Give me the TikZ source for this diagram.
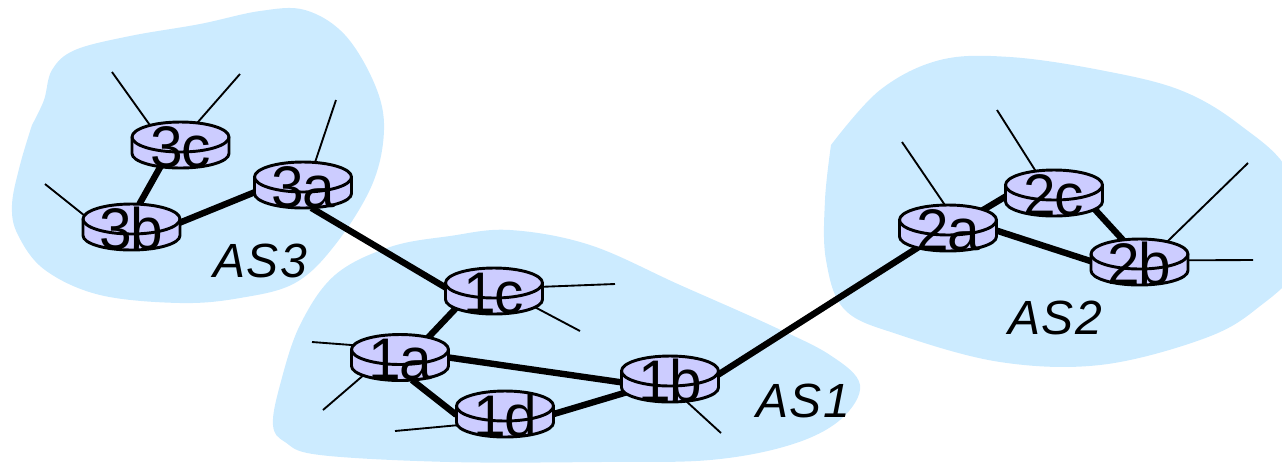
\documentclass[tikz,border=0pt]{standalone}
\usepackage{fontspec}
\setmainfont{Liberation Sans}
\newfontfamily\rtrfont[LetterSpace=-3]{Liberation Sans}
\newfontfamily\asfont[LetterSpace=3]{Liberation Sans}
\usetikzlibrary{shapes.geometric,backgrounds}
\definecolor{asblue}{HTML}{CCEBFF}
\definecolor{rtrfill}{HTML}{CCCCFF}
\tikzset{
  asblob/.style={fill=asblue,draw=none},
  rtrbody/.style={fill=rtrfill,draw=black,line width=2.2pt,line join=round},
  rtrnode/.style={ellipse,minimum width=72.75pt,minimum height=34.5pt,inner sep=0pt,
     font=\fontsize{44}{44}\rtrfont},
  aslabel/.style={font=\fontsize{36}{36}\asfont\itshape,inner sep=0pt},
  trunk/.style={line width=4.8pt,draw=black},
  stub/.style={line width=1.4pt,draw=black}
}
\newcommand{\rtr}[4]{%
  \begin{scope}[shift={(#2,#3)}]
    \path[rtrbody] (-48.5,-8) -- (-48.5,8.5) arc[start angle=180,end angle=0,x radius=48.5,y radius=14.5]
       -- (48.5,-8) arc[start angle=0,end angle=-180,x radius=48.5,y radius=15] -- cycle;
    \draw[line width=2.2pt] (-48.5,-8) arc[start angle=180,end angle=0,x radius=48.5,y radius=15];
  \end{scope}
  \node[rtrnode] (#1) at (#2,#3) {\makebox[0pt][c]{\raisebox{-16.5pt}[0pt][0pt]{#4}}};%
}
\begin{document}
\begin{tikzpicture}[x=0.75pt,y=-0.75pt]
\useasboundingbox (0,0) rectangle (1282,462);
\begin{pgfonlayer}{background}
\begin{scope}
\clip (0,0) rectangle (1282,462);
\fill[asblob] plot[smooth,tension=0.6] coordinates {(32,125) (44,100) (52,70) (75,50) (130,36) (200,24) (260,11) (305,10) (345,35) (375,85) (384,130) (372,185) (335,245) (295,283) (240,298) (180,303) (100,295) (45,270) (18,235) (12,205) (20,165) (32,125)};
\fill[asblob] plot[smooth cycle,tension=0.6] coordinates {(273,425) (280,385) (300,325) (335,275) (390,247) (450,236) (510,230) (590,245) (680,285) (770,325) (830,355) (860,385) (840,420) (790,445) (710,460) (600,462) (450,462) (320,455) (285,442)};
\fill[asblob] plot[smooth,tension=0.6] coordinates {(831,145) (880,90) (940,60) (1010,57) (1100,70) (1180,90) (1240,125) (1290,175) (1300,260) (1255,310) (1200,340) (1100,365) (1000,362) (900,335) (845,310) (826,260) (825,200) (831,145)};
\end{scope}
\end{pgfonlayer}

\rtr{r3c}{180.5}{145}{3c}
\rtr{r3a}{303}{185}{3a}
\rtr{r3b}{131.5}{227}{3b}
\rtr{r1c}{494}{291}{1c}
\rtr{r1a}{400}{357.5}{1a}
\rtr{r1d}{505}{414}{1d}
\rtr{r1b}{670}{379}{1b}
\rtr{r2a}{948}{228}{2a}
\rtr{r2c}{1054}{193}{2c}
\rtr{r2b}{1139.5}{262}{2b}

\node[aslabel] (las3) at (260,261) {AS3};
\node[aslabel] (las1) at (803,401) {AS1};
\node[aslabel] (las2) at (1055,318) {AS2};

\coordinate (e3c1) at (112,72);
\coordinate (e3c2) at (240,74);
\coordinate (e3a) at (336,100);
\coordinate (e3b) at (45,184);
\coordinate (e1c1) at (615,284);
\coordinate (e1c2) at (580,331);
\coordinate (e1a1) at (312,342);
\coordinate (e1a2) at (323,410);
\coordinate (e1d) at (395,431);
\coordinate (e1b) at (721,433);
\coordinate (e2a) at (902,142);
\coordinate (e2c) at (997,110);
\coordinate (e2b1) at (1248,163);
\coordinate (e2b2) at (1253,260);

\begin{pgfonlayer}{background}
\draw[trunk] (r3c.-133) -- (r3b.71);
\draw[trunk] (r3b.5) -- (r3a.-172);
\draw[trunk] (r3a.-70) -- (r1c.176);
\draw[trunk] (r1c.-157) -- (r1a.35);
\draw[trunk] (r1a.0) -- (r1b.-176);
\draw[trunk] (r1a.-62) -- (r1d.-179);
\draw[trunk] (r1d.0) -- (r1b.-163);
\draw[trunk] (r1b.5) -- (r2a.-147);
\draw[trunk] (r2a.27) -- (r2c.-176);
\draw[trunk] (r2a.-3.5) -- (r2b.179);
\draw[trunk] (r2c.-20) -- (r2b.127);
\draw[stub] (e3c1) -- (r3c.148);
\draw[stub] (e3c2) -- (r3c.53);
\draw[stub] (e3a) -- (r3a.62);
\draw[stub] (e3b) -- (r3b.168);
\draw[stub] (e1c1) -- (r1c.5);
\draw[stub] (e1c2) -- (r1c.-21);
\draw[stub] (e1a1) -- (r1a.164);
\draw[stub] (e1a2) -- (r1a.-155);
\draw[stub] (e1d) -- (r1d.-166);
\draw[stub] (e1b) -- (r1b.-54);
\draw[stub] (e2a) -- (r2a.98);
\draw[stub] (e2c) -- (r2c.130);
\draw[stub] (e2b1) -- (r2b.36);
\draw[stub] (e2b2) -- (r2b.2.5);
\end{pgfonlayer}
\end{tikzpicture}
\end{document}
